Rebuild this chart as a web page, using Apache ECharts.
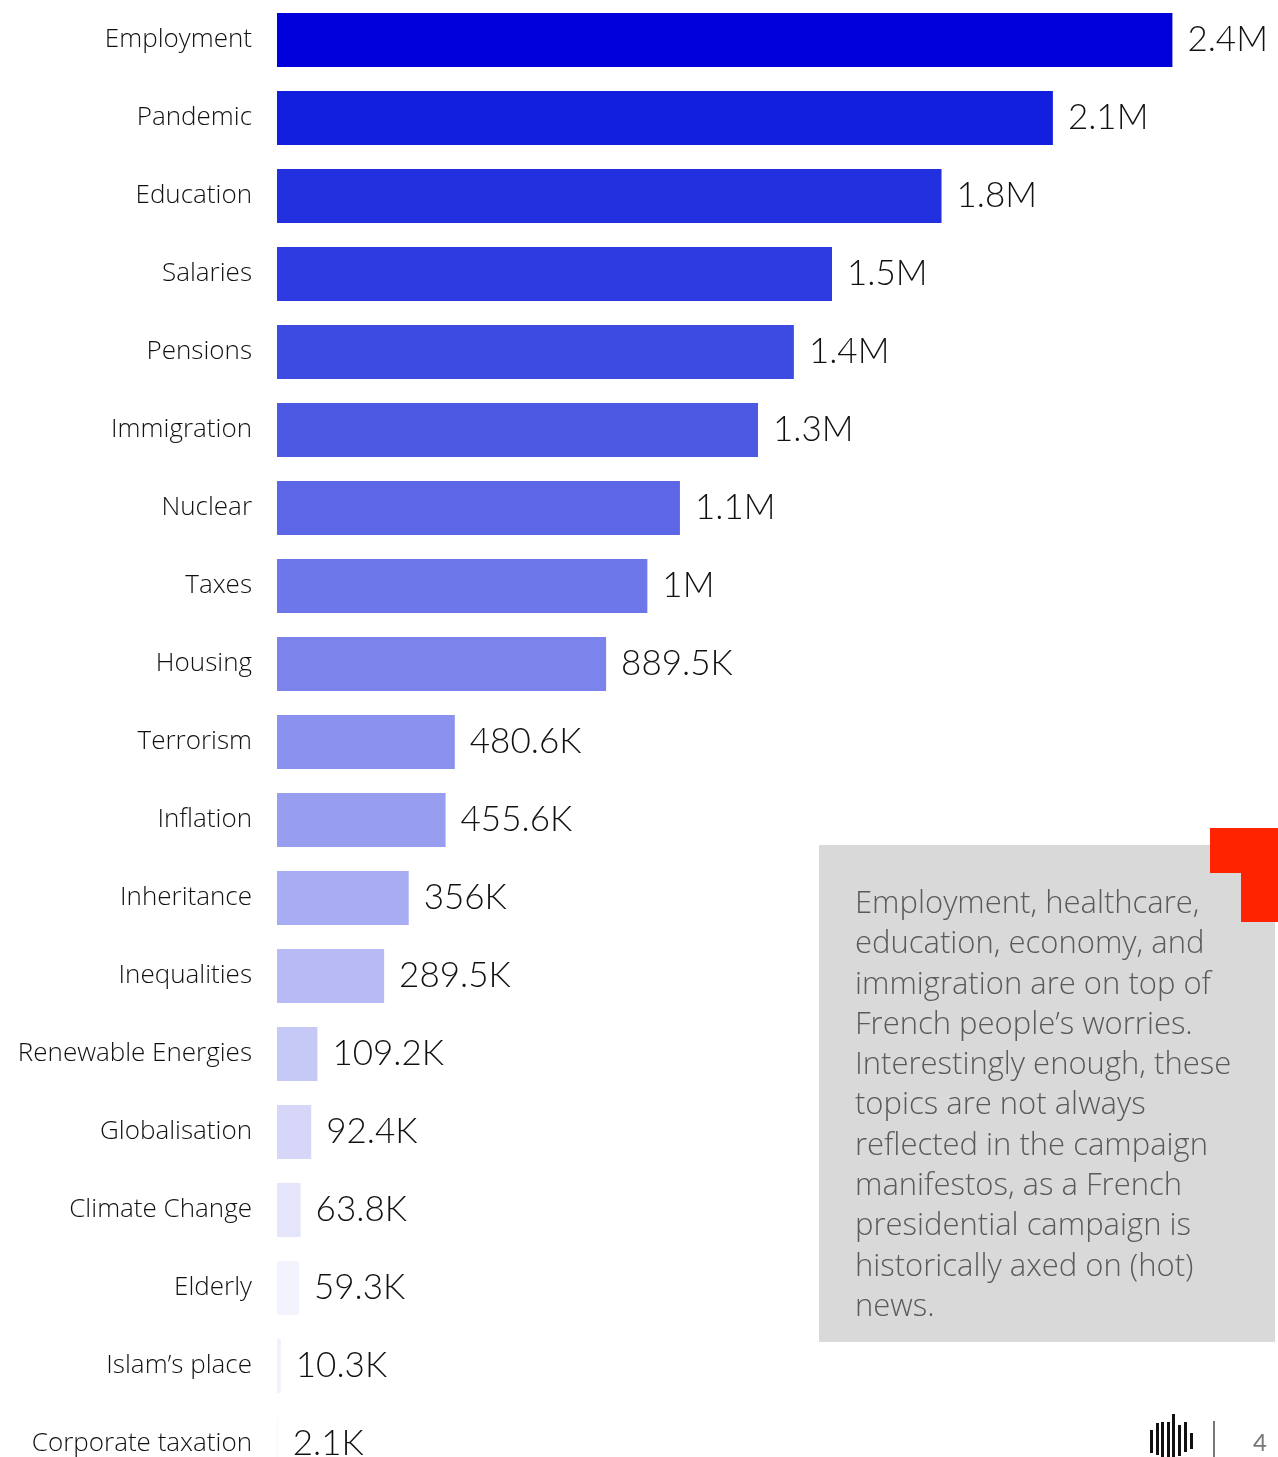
<!DOCTYPE html>
<html>
<head>
<meta charset="utf-8">
<script src="https://cdn.jsdelivr.net/npm/echarts@6/dist/echarts.min.js"></script>
<style>
  html, body { margin: 0; padding: 0; background: #fff; }
  #chart { width: 1278px; height: 1457px; }
</style>
</head>
<body>
<div id="chart"></div>
<script>
// topics, ordered from largest to smallest
const topics = ['Employment', 'Pandemic', 'Education', 'Salaries', 'Pensions', 'Immigration',
  'Nuclear', 'Taxes', 'Housing', 'Terrorism', 'Inflation', 'Inheritance', 'Inequalities',
  'Renewable Energies', 'Globalisation', 'Climate Change', 'Elderly', 'Islam\u2019s place',
  'Corporate taxation'];

// mentions per topic
const mentions = [2420000, 2097000, 1796000, 1500000, 1397000, 1300000,
  1089000, 1001000, 889500, 480600, 455600, 356000, 289500,
  109200, 92400, 63800, 59300, 10300, 2100];

// palette, dark to light
const barColors = ['#0000dd', '#1220dd', '#2330e0', '#2e3be0', '#3e4be2', '#4d58e3',
  '#5d66e7', '#6e77e9', '#7c83eb', '#8b91ee', '#989eef', '#a8acf2', '#b7baf4',
  '#c6c8f6', '#d6d7f8', '#e4e5fb', '#f3f3fd', '#f1f1fb', '#f6f6fd'];

const note = 'Employment, healthcare,\neducation, economy, and\nimmigration are on top of\n' +
  'French people\u2019s worries.\nInterestingly enough, these\ntopics are not always\n' +
  'reflected in the campaign\nmanifestos, as a French\npresidential campaign is\n' +
  'historically axed on (hot)\nnews.';

function fmt(v) {
  if (v >= 1e6) return +(v / 1e6).toFixed(1) + 'M';
  return +(v / 1e3).toFixed(1) + 'K';
}

const chart = echarts.init(document.getElementById('chart'));

// little sound-wave logo in the corner
const waveBars = [[1150, 1430, 1453], [1156, 1423, 1455], [1161, 1422, 1457], [1167, 1422, 1457],
  [1172, 1414, 1457], [1178, 1425, 1456], [1184, 1422, 1452], [1190, 1433, 1449]];

const logo = waveBars.map(b => ({
  type: 'rect',
  shape: { x: b[0], y: b[1], width: 3, height: b[2] - b[1] },
  style: { fill: '#111' }
}));

const option = {
  animation: false,
  grid: { left: 277, right: 2, top: 1, height: 1482, outerBoundsMode: 'none' },
  xAxis: {
    type: 'value',
    min: 0,
    max: 2700000,
    show: false
  },
  yAxis: {
    type: 'category',
    data: topics,
    inverse: true,
    axisLine: { show: false },
    axisTick: { show: false },
    axisLabel: {
      margin: 25,
      color: '#111',
      fontSize: 26,
      fontFamily: 'Open Sans',
      fontWeight: 300
    }
  },
  series: [{
    type: 'bar',
    barWidth: 54,
    data: mentions.map((v, i) => ({ value: v, itemStyle: { color: barColors[i] } })),
    label: {
      show: true,
      position: 'right',
      distance: 15,
      color: '#111',
      fontSize: 35,
      fontFamily: 'Lato',
      fontWeight: 300,
      formatter: p => fmt(p.value)
    }
  }],
  graphic: [
    {
      type: 'rect',
      shape: { x: 819, y: 845, width: 456, height: 497 },
      style: { fill: '#d9d9d9' }
    },
    {
      type: 'polygon',
      shape: { points: [[1210, 828], [1278, 828], [1278, 922], [1241, 922], [1241, 873], [1210, 873]] },
      style: { fill: '#ff2400' }
    },
    {
      type: 'text',
      x: 855,
      y: 884,
      style: {
        text: note,
        fill: '#5a5a5a',
        font: '300 31px "Open Sans"',
        lineHeight: 40.3,
        verticalAlign: 'top'
      }
    },
    ...logo,
    {
      type: 'rect',
      shape: { x: 1213, y: 1421, width: 2, height: 36 },
      style: { fill: '#777' }
    },
    {
      type: 'text',
      x: 1253,
      y: 1443,
      style: { text: '4', fill: '#777', font: '24px Lato', verticalAlign: 'middle' }
    }
  ]
};

chart.setOption(option);
</script>
</body>
</html>
